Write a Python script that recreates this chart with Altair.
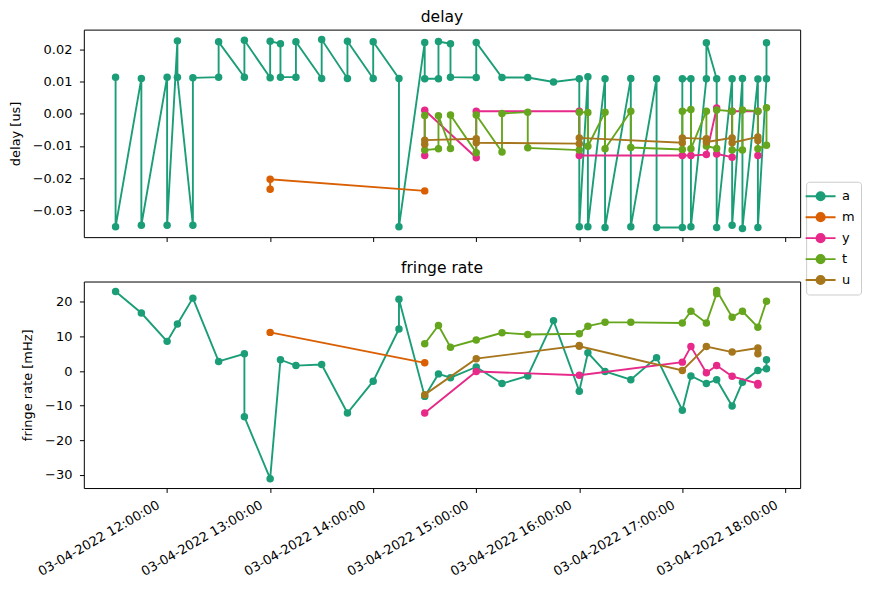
import altair as alt
import pandas as pd

DAY = "2022-04-03"
SERIES = ["a", "m", "y", "t", "u"]
COLORS = ["#1b9e77", "#d95f02", "#e7298a", "#66a61e", "#a6761d"]

# ---- series "a" ----
A_DELAY_T = ["11:30", "11:30", "11:45", "11:45", "12:00", "12:00", "12:06", "12:06",
             "12:15", "12:15", "12:30", "12:30", "12:45", "12:45", "13:00", "13:00",
             "13:06", "13:06", "13:15", "13:15", "13:30", "13:30", "13:45", "13:45",
             "14:00", "14:00", "14:15", "14:15", "14:30", "14:30", "14:38", "14:38",
             "14:45", "14:45", "15:00", "15:00", "15:15", "15:30", "15:45",
             "16:00", "16:00", "16:05", "16:05", "16:15", "16:15", "16:30", "16:30",
             "16:45", "16:45", "17:00", "17:00", "17:05", "17:05", "17:14", "17:14",
             "17:20", "17:20", "17:29", "17:29", "17:35", "17:35", "17:44", "17:44",
             "17:49", "17:49"]
A_DELAY_V = [0.0114, -0.0352, 0.0110, -0.0347, 0.0114, -0.0347, 0.0227, 0.0114,
             -0.0347, 0.0112, 0.0114, 0.0224, 0.0114, 0.0229, 0.0112, 0.0226,
             0.0218, 0.0114, 0.0114, 0.0224, 0.0110, 0.0231, 0.0110, 0.0226,
             0.0110, 0.0224, 0.0110, -0.0352, 0.0222, 0.0109, 0.0109, 0.0225,
             0.0218, 0.0114, 0.0113, 0.0222, 0.0113, 0.0113, 0.0099,
             0.0109, -0.0352, 0.0115, -0.0352, 0.0109, -0.0354, 0.0110, -0.0352,
             0.0109, -0.0354, -0.0354, 0.0109, 0.0109, -0.0352, 0.0109, 0.0221,
             0.0109, -0.0354, 0.0109, -0.0347, 0.0110, -0.0357, 0.0108, -0.0354,
             0.0109, 0.0221]
A_FRINGE_T = ["11:30", "11:45", "12:00", "12:06", "12:15", "12:30", "12:45", "12:45",
              "13:00", "13:06", "13:15", "13:30", "13:45", "14:00", "14:15", "14:15",
              "14:30", "14:38", "14:45", "15:00", "15:15", "15:30", "15:45", "16:00",
              "16:05", "16:15", "16:30", "16:45", "17:00", "17:05", "17:14", "17:20",
              "17:29", "17:35", "17:44", "17:49", "17:49"]
A_FRINGE_V = [23.0, 16.8, 8.6, 13.6, 21.1, 2.8, 5.0, -13.2,
              -31.1, 3.3, 1.6, 1.9, -12.1, -2.9, 12.2, 20.8,
              -7.3, -0.8, -1.9, 1.2, -3.6, -1.4, 14.6, -5.8,
              5.3, -0.1, -2.5, 3.9, -11.3, -1.4, -3.6, -2.5,
              -10.1, -3.2, 0.2, 0.7, 3.3]

# ---- series "m" ----
M_DELAY_T = ["13:00", "13:00", "14:30"]
M_DELAY_V = [-0.0235, -0.0204, -0.0240]
M_FRINGE_T = ["13:00", "14:30"]
M_FRINGE_V = [11.2, 2.4]

# ---- series "y" ----
Y_DELAY_T = ["14:30", "14:30", "15:00", "15:00", "16:00", "16:00", "17:00", "17:05",
             "17:14", "17:20", "17:20", "17:29", "17:29", "17:44", "17:44"]
Y_DELAY_V = [-0.0130, 0.0011, -0.0137, 0.0008, 0.0008, -0.0130, -0.0130, -0.0130,
             -0.0127, 0.0018, -0.0125, -0.0135, 0.0008, 0.0008, -0.0130]
Y_FRINGE_T = ["14:30", "15:00", "16:00", "17:00", "17:05", "17:14", "17:20", "17:29",
              "17:44", "17:44"]
Y_FRINGE_V = [-12.1, -0.1, -1.2, 2.6, 7.1, -0.5, 1.6, -1.5, -3.6, -4.0]

# ---- series "t" ----
T_DELAY_T = ["14:30", "14:30", "14:38", "14:38", "14:45", "14:45", "15:00", "15:00",
             "15:15", "15:15", "15:30", "15:30", "16:00", "16:00", "16:05", "16:05",
             "16:15", "16:15", "16:30", "16:30", "17:00", "17:00", "17:05", "17:05",
             "17:14", "17:14", "17:20", "17:20", "17:29", "17:29", "17:35", "17:35",
             "17:44", "17:44", "17:49", "17:49"]
T_DELAY_V = [-0.0005, -0.0113, -0.0109, -0.0006, -0.0108, -0.0004, -0.0121, -0.0004,
             -0.0119, 0.0001, 0.0005, -0.0106, -0.0113, 0.0005, 0.0004, -0.0101,
             0.0005, -0.0109, 0.0008, -0.0105, -0.0111, 0.0008, 0.0013, -0.0109,
             0.0008, -0.0100, -0.0108, 0.0012, 0.0008, -0.0113, -0.0113, 0.0012,
             0.0008, -0.0109, -0.0098, 0.0019]
T_FRINGE_T = ["14:30", "14:38", "14:45", "15:00", "15:15", "15:30", "16:00", "16:05",
              "16:15", "16:30", "17:00", "17:05", "17:14", "17:20", "17:20", "17:29",
              "17:35", "17:44", "17:49"]
T_FRINGE_V = [7.9, 13.2, 6.9, 9.0, 11.1, 10.6, 10.8, 13.0,
              14.1, 14.1, 13.9, 17.3, 13.9, 22.4, 23.3, 15.6,
              17.3, 12.7, 20.2]

# ---- series "u" ----
U_DELAY_T = ["14:30", "14:30", "15:00", "15:00", "16:00", "16:00", "17:00", "17:00",
             "17:14", "17:14", "17:29", "17:29", "17:44", "17:44"]
U_DELAY_V = [-0.0095, -0.0082, -0.0078, -0.0090, -0.0093, -0.0075, -0.0090, -0.0075,
             -0.0078, -0.0088, -0.0075, -0.0090, -0.0072, -0.0083]
U_FRINGE_T = ["14:30", "15:00", "16:00", "16:00", "17:00", "17:14", "17:29", "17:44", "17:44"]
U_FRINGE_V = [-6.8, 3.6, 7.4, 7.2, 0.2, 7.1, 5.5, 6.7, 5.0]

X_TICK_HOURS = [12, 13, 14, 15, 16, 17, 18]
DELAY_TICKS = [-0.03, -0.02, -0.01, 0.0, 0.01, 0.02]
FRINGE_TICKS = [-30, -20, -10, 0, 10, 20]

DELAY = {"a": (A_DELAY_T, A_DELAY_V), "m": (M_DELAY_T, M_DELAY_V), "y": (Y_DELAY_T, Y_DELAY_V),
         "t": (T_DELAY_T, T_DELAY_V), "u": (U_DELAY_T, U_DELAY_V)}
FRINGE = {"a": (A_FRINGE_T, A_FRINGE_V), "m": (M_FRINGE_T, M_FRINGE_V), "y": (Y_FRINGE_T, Y_FRINGE_V),
          "t": (T_FRINGE_T, T_FRINGE_V), "u": (U_FRINGE_T, U_FRINGE_V)}

FONT = "DejaVu Sans"
FS = 13


def frame(name, times, values):
    return pd.DataFrame({
        "series": name,
        "time": [f"{DAY}T{t}:00" for t in times],
        "value": values,
        "order": list(range(len(times))),
    })


def dt(h, m=0, s=0):
    return alt.DateTime(year=2022, month=4, date=3, hours=h, minutes=m, seconds=s)


x_scale = alt.Scale(domain=[dt(11, 11, 30), dt(18, 8, 36)])
color_scale = alt.Scale(domain=SERIES, range=COLORS)
LEG_PATH = "M-2,0L2,0M-0.55,0A0.55,0.55,0,1,1,0.55,0A0.55,0.55,0,1,1,-0.55,0Z"
legend = alt.Legend(
    title=None, orient="none", legendX=724, legendY=152.5,
    symbolType=LEG_PATH, symbolSize=225, symbolStrokeWidth=1.9, symbolOpacity=1,
    labelFont=FONT, labelFontSize=FS, labelColor="black", labelOffset=13,
    padding=6, strokeColor="#cccccc", fillColor="white", cornerRadius=3,
    rowPadding=4,
)


def panel(data, title, ytitle, ydomain, yticks, yfmt, labels, height):
    x_axis = alt.Axis(
        title=None, values=[dt(h) for h in X_TICK_HOURS], labels=labels,
        format="%d-%m-%Y %H:%M:%S", labelAngle=-30, labelAlign="right",
        labelBaseline="top", labelOffset=-12, labelOverlap=False, labelBound=False,
        labelFont=FONT, labelFontSize=FS, labelColor="black", labelLimit=400,
        labelPadding=6,
    )
    y_axis = alt.Axis(title=ytitle, values=yticks, format=yfmt,
                      labelFont=FONT, labelFontSize=FS, labelColor="black",
                      labelPadding=7.5)
    layers = []
    for s in SERIES:
        times, vals = data[s]
        base = alt.Chart(frame(s, times, vals)).encode(
            x=alt.X("time:T", scale=x_scale, axis=x_axis),
            y=alt.Y("value:Q", scale=alt.Scale(domain=ydomain, nice=False, zero=False), axis=y_axis),
            order=alt.Order("order:Q"),
        )
        layers.append(base.mark_line(strokeWidth=1.9, clip=True))
        layers.append(base.mark_point(filled=True, size=56, strokeWidth=1, opacity=1, clip=True))
    return alt.layer(*layers).encode(
        color=alt.Color("series:N", scale=color_scale, legend=legend)
    ).properties(
        width=718, height=height,
        title=alt.TitleParams(title, font=FONT, fontSize=15.6, fontWeight="normal",
                              color="black", offset=4.5),
    )


top = panel(DELAY, "delay", "delay [us]", [-0.0384, 0.0262], DELAY_TICKS, ".2f", False, 208)
bottom = panel(FRINGE, "fringe rate", "fringe rate [mHz]", [-33.8, 25.9], FRINGE_TICKS, "d", True, 207)

chart = alt.vconcat(top, bottom, spacing=17.5).properties(
    padding={"left": 0, "top": 0, "right": 0, "bottom": 0}
).configure_view(
    stroke="black", strokeWidth=1
).configure_axis(
    domain=False, grid=False, tickColor="black", tickSize=4.4, tickWidth=1,
    labelFont=FONT, labelFontSize=FS, labelColor="black",
    titleFont=FONT, titleFontSize=FS, titleFontWeight="normal", titleColor="black",
    titlePadding=10,
)

chart.save("out.html", embed_options={"renderer": "svg", "actions": False})
